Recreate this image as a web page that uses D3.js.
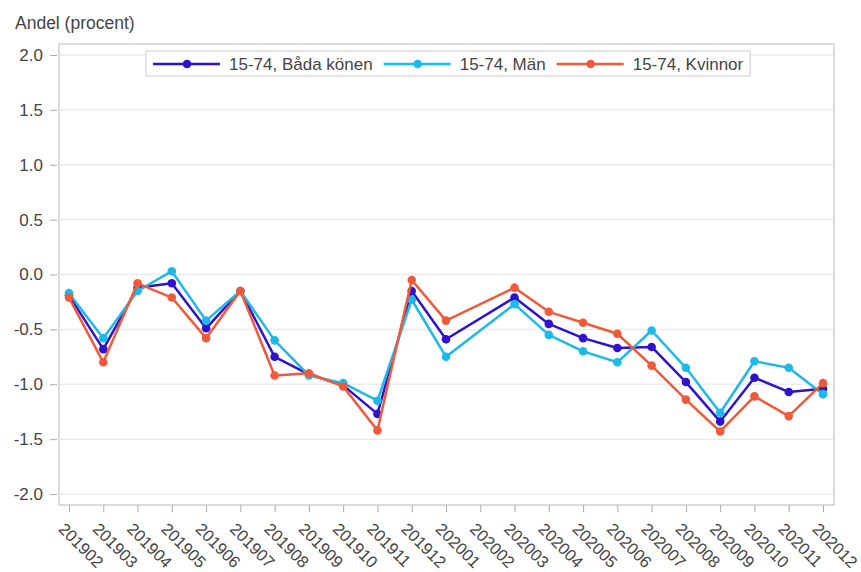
<!DOCTYPE html>
<html>
<head>
<meta charset="utf-8">
<script src="https://cdn.jsdelivr.net/npm/d3@7"></script>
<style>
  body { margin: 0; background: #fff; }
  text { font-family: "Liberation Sans", Arial, sans-serif; fill: #444; }
</style>
</head>
<body>
<div class="chart"></div>
<script>
// data (percent), 202002 missing in the source
var months = ["201902","201903","201904","201905","201906","201907","201908","201909","201910","201911","201912",
              "202001","202002","202003","202004","202005","202006","202007","202008","202009","202010","202011","202012"];
var bada = [-0.19,-0.68,-0.12,-0.08,-0.49,-0.15,-0.75,-0.91,-1.01,-1.27,-0.15,-0.59,null,-0.21,-0.45,-0.58,-0.67,-0.66,-0.98,-1.34,-0.94,-1.07,-1.04];
var man  = [-0.17,-0.58,-0.15,0.03,-0.42,-0.15,-0.60,-0.92,-0.99,-1.15,-0.23,-0.75,null,-0.27,-0.55,-0.70,-0.80,-0.51,-0.85,-1.26,-0.79,-0.85,-1.09];
var kvinnor = [-0.21,-0.80,-0.08,-0.21,-0.58,-0.15,-0.92,-0.90,-1.02,-1.42,-0.05,-0.42,null,-0.12,-0.34,-0.44,-0.54,-0.83,-1.14,-1.43,-1.11,-1.29,-0.99];
var seriesNames = ["15-74, Båda könen", "15-74, Män", "15-74, Kvinnor"];
var yTicks = [2.0, 1.5, 1.0, 0.5, 0.0, -0.5, -1.0, -1.5, -2.0];

var colors = ["#2e12cc", "#1db9e9", "#f05a3b"];
var series = [bada, man, kvinnor];

var svgWidth = 861, svgHeight = 572;
var frame = { left: 59, right: 834, top: 44, bottom: 505 };

var svg = d3.select(".chart").append("svg")
  .attr("width", svgWidth)
  .attr("height", svgHeight);

var x = d3.scalePoint().domain(months).range([69, 823]);
var y = d3.scaleLinear().domain([-2.1, 2.1]).range([frame.bottom, frame.top]);

// gridlines
svg.append("g").selectAll("line")
  .data(yTicks).enter().append("line")
  .attr("x1", frame.left).attr("x2", frame.right)
  .attr("y1", d => y(d)).attr("y2", d => y(d))
  .attr("stroke", "#ebebeb")
  .attr("stroke-width", 1.5);

// frame
svg.append("rect")
  .attr("x", frame.left).attr("y", frame.top)
  .attr("width", frame.right - frame.left)
  .attr("height", frame.bottom - frame.top)
  .attr("fill", "none")
  .attr("stroke", "#cfcfcf")
  .attr("stroke-width", 1.5);

// y axis
var leftAxis = d3.axisLeft(y).tickValues(yTicks).tickFormat(d3.format(".1f"))
  .tickSize(7).tickPadding(7);
var gy = svg.append("g").attr("transform", "translate(57,0)").call(leftAxis);
gy.select(".domain").remove();
gy.selectAll(".tick line").attr("stroke", "#aaa");
gy.selectAll(".tick text")
  .attr("font-size", "17px")
  .attr("font-family", "Liberation Sans, Arial, sans-serif")
  .text(d => d3.format(".1f")(d).replace("−", "-"));

// x axis
var bottomAxis = d3.axisBottom(x).tickSize(7).tickPadding(0);
var gx = svg.append("g").attr("transform", `translate(0, ${frame.bottom})`).call(bottomAxis);
gx.select(".domain").remove();
gx.selectAll(".tick line").attr("stroke", "#aaa");
gx.selectAll(".tick text")
  .attr("font-size", "16.5px")
  .attr("font-family", "Liberation Sans, Arial, sans-serif")
  .attr("text-anchor", "start")
  .attr("dy", 0)
  .attr("y", 0)
  .attr("transform", "translate(-12, 25) rotate(45)");

// axis title
svg.append("text")
  .attr("x", 15).attr("y", 29)
  .attr("font-size", "17.5px")
  .text("Andel (procent)");

// lines and markers
var line = d3.line().x(d => x(d.m)).y(d => y(d.v));

series.forEach(function(vals, i) {
  var pts = months.map((m, j) => ({ m: m, v: vals[j] })).filter(d => d.v !== null);
  svg.append("path")
    .datum(pts)
    .attr("d", line)
    .attr("fill", "none")
    .attr("stroke", colors[i])
    .attr("stroke-width", 2.5)
    .attr("stroke-linejoin", "round");
  svg.append("g").selectAll("circle")
    .data(pts).enter().append("circle")
    .attr("cx", d => x(d.m))
    .attr("cy", d => y(d.v))
    .attr("r", 4.3)
    .attr("fill", colors[i]);
});

// legend
var legend = svg.append("g");
var legendBox = legend.append("rect")
  .attr("y", 51).attr("height", 25)
  .attr("fill", "#fff")
  .attr("stroke", "#d5d5d5")
  .attr("stroke-width", 1.2);

var lx = 153, ly = 64;
seriesNames.forEach(function(name, i) {
  var item = legend.append("g");
  item.append("line")
    .attr("x1", lx).attr("x2", lx + 67)
    .attr("y1", ly).attr("y2", ly)
    .attr("stroke", colors[i]).attr("stroke-width", 2.5);
  item.append("circle")
    .attr("cx", lx + 34).attr("cy", ly).attr("r", 4.3)
    .attr("fill", colors[i]);
  var t = item.append("text")
    .attr("x", lx + 76).attr("y", ly + 6)
    .attr("font-size", "17px")
    .text(name);
  lx = lx + 76 + t.node().getComputedTextLength() + 11;
});
legendBox.attr("x", 146).attr("width", lx - 11 + 7 - 146);
</script>
</body>
</html>
